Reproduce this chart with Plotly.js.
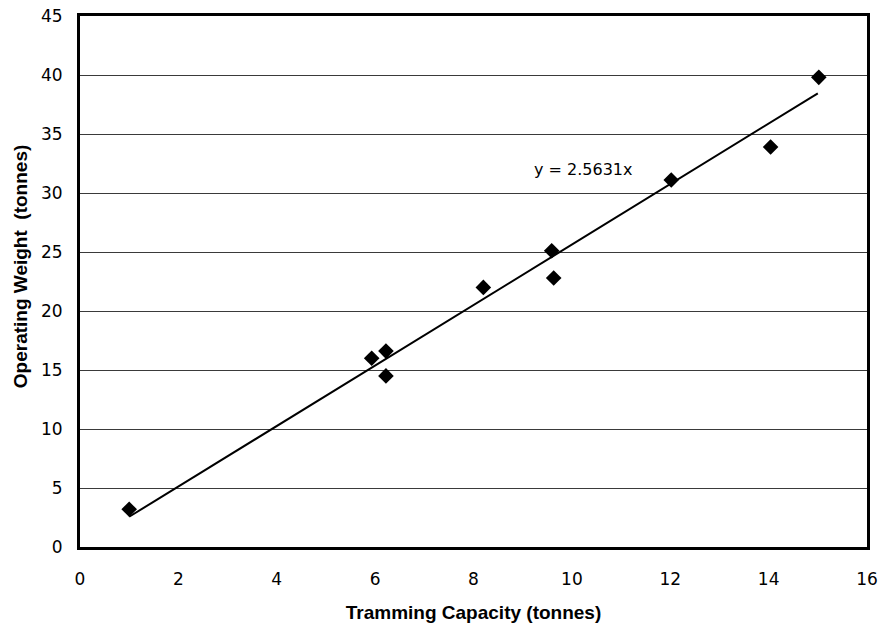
<!DOCTYPE html>
<html>
<head>
<meta charset="utf-8">
<script src="https://cdn.plot.ly/plotly-3.0.1.min.js"></script>
<style>
  html, body { margin: 0; padding: 0; background: #fff; }
  #chart { width: 881px; height: 626px; }
</style>
</head>
<body>
<div id="chart"></div>
<script>
// Tramming capacity vs operating weight of underground loaders
const trammingCapacity = [1.0, 5.93, 6.22, 6.22, 8.2, 9.59, 9.63, 12.02, 14.04, 15.02];
const operatingWeight  = [3.2, 16.0, 16.6, 14.5, 22.0, 25.1, 22.8, 31.1, 33.9, 39.8];

// Linear fit through the origin
const slope = 2.5631;
const fitX = [1, 15];
const fitY = fitX.map(x => slope * x);
const fitLabel = 'y = 2.5631x';

const xTicks = [0, 2, 4, 6, 8, 10, 12, 14, 16];
const yTicks = [0, 5, 10, 15, 20, 25, 30, 35, 40, 45];

const xTitle = 'Tramming Capacity (tonnes)';
const yTitle = 'Operating Weight  (tonnes)';

const tickFont = 'DejaVu Sans, Verdana, sans-serif';
const titleFont = 'Liberation Sans, Arial, sans-serif';

const traces = [
  {
    x: fitX, y: fitY, mode: 'lines', type: 'scatter',
    line: { color: '#000', width: 2 }, hoverinfo: 'skip'
  },
  {
    x: trammingCapacity, y: operatingWeight, mode: 'markers', type: 'scatter',
    marker: { symbol: 'diamond', size: 12, color: '#000' }
  }
];

const layout = {
  width: 881, height: 626,
  margin: { l: 80, r: 14, t: 16, b: 79 },
  paper_bgcolor: '#fff', plot_bgcolor: '#fff',
  showlegend: false,
  font: { family: tickFont, color: '#000', size: 17 },
  xaxis: {
    range: [0, 16], tickvals: xTicks, ticktext: xTicks.map(String),
    showgrid: false, zeroline: false,
    showline: true, mirror: true, linewidth: 3, linecolor: '#000',
    ticks: '', ticklabelstandoff: 15,
    tickfont: { family: tickFont, size: 17, color: '#000' },
    title: { text: '<b>' + xTitle + '</b>', font: { family: titleFont, size: 19 }, standoff: 18 },
    automargin: false
  },
  yaxis: {
    range: [0, 45], tickvals: yTicks, ticktext: yTicks.map(String),
    showgrid: true, gridcolor: '#3a3a3a', gridwidth: 1, zeroline: false,
    showline: true, mirror: true, linewidth: 3, linecolor: '#000',
    ticks: '', ticklabelstandoff: 11,
    tickfont: { family: tickFont, size: 17, color: '#000' },
    automargin: false
  },
  annotations: [
    {
      x: 9.19, y: 32.0, xref: 'x', yref: 'y',
      text: fitLabel, showarrow: false, xanchor: 'left', yanchor: 'middle',
      font: { family: tickFont, size: 16, color: '#000' }
    },
    {
      // vertical axis title, sitting slightly above the plot's centre line
      x: -0.0762, y: 0.527, xref: 'paper', yref: 'paper',
      text: '<b>' + yTitle + '</b>', textangle: -90, showarrow: false,
      xanchor: 'center', yanchor: 'middle',
      font: { family: titleFont, size: 19, color: '#000' }
    }
  ]
};

Plotly.newPlot('chart', traces, layout, { displayModeBar: false, staticPlot: true });
</script>
</body>
</html>
